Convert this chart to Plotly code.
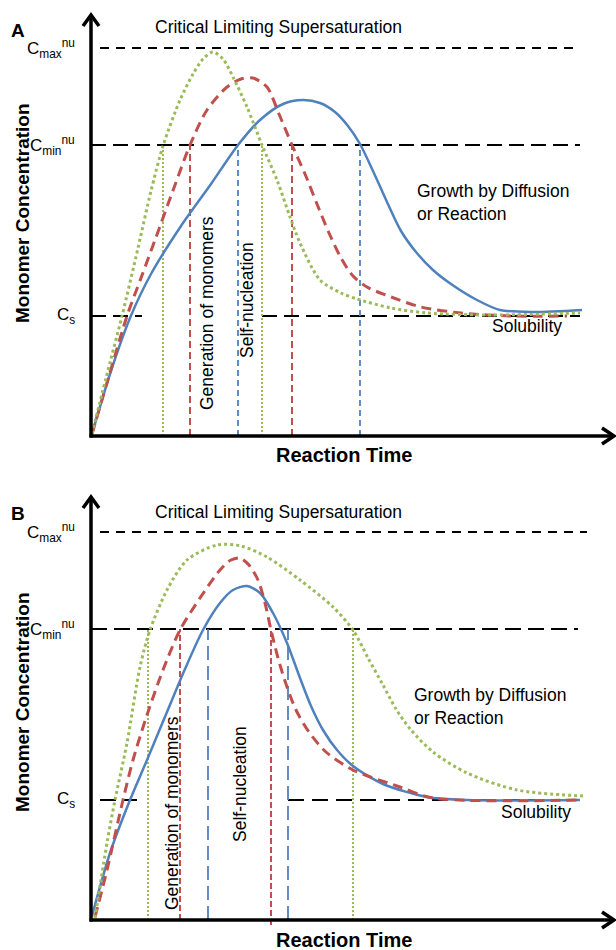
import plotly.graph_objects as go

# ---------------- data (arbitrary units: time, concentration) ----------------
C_S, C_MIN, C_MAX = 120, 291, 388
LEVEL_LABELS = ["C<sub>max</sub><sup>nu</sup>", "C<sub>min</sub><sup>nu</sup>", "C<sub>s</sub>"]

# Panel A
a_blue_t = [1, 19, 39, 60, 90, 120, 147, 169, 192, 212, 229, 244, 257, 269, 282, 296, 310, 325, 342, 360, 386, 409, 442, 491]
a_blue_c = [2, 62, 118, 162, 210, 252, 291, 316, 332, 336, 333, 324, 310, 292, 265, 234, 205, 184, 166, 152, 136, 126, 124, 126]
a_red_t = [1, 18, 36, 50, 64, 84, 99, 116, 136, 150, 162, 176, 188, 201, 214, 226, 238, 250, 262, 276, 300, 330, 370, 420, 476]
a_red_c = [2, 60, 120, 158, 196, 251, 291, 326, 349, 357, 358, 349, 322, 291, 262, 232, 203, 178, 160, 149, 139, 129, 123, 120, 120]
a_green_t = [1, 15, 31, 47, 60, 72, 89, 102, 112, 122, 132, 142, 156, 171, 186, 199, 209, 229, 250, 266, 300, 336, 400, 489]
a_green_c = [2, 58, 120, 188, 245, 290, 336, 362, 377, 384, 377, 359, 329, 291, 256, 219, 193, 156, 143, 137, 128, 123, 121, 123]
a_vlines_green = [72, 171]
a_vlines_red = [99, 201]
a_vlines_blue = [147, 269]

# Panel B
b_blue_t = [1, 19, 39, 56, 76, 94, 112, 129, 142, 156, 169, 182, 196, 209, 220, 232, 246, 262, 292, 336, 376, 489]
b_blue_c = [4, 67, 120, 160, 208, 251, 290, 317, 330, 334, 327, 307, 277, 242, 214, 190, 170, 154, 136, 123, 120, 120]
b_red_t = [4, 16, 32, 42, 56, 72, 89, 109, 129, 140, 149, 158, 167, 174, 180, 187, 195, 205, 218, 235, 262, 309, 342, 489]
b_red_c = [3, 50, 120, 160, 205, 250, 290, 322, 350, 360, 362, 355, 340, 317, 290, 262, 236, 210, 188, 168, 150, 133, 122, 120]
b_green_t = [4, 16, 24, 36, 49, 59, 76, 96, 126, 150, 176, 209, 242, 262, 277, 292, 305, 320, 342, 376, 426, 492]
b_green_c = [2, 77, 120, 177, 253, 290, 330, 360, 375, 374, 363, 340, 313, 290, 262, 235, 211, 190, 168, 147, 130, 124]
b_vlines_green = [57, 262]
b_vlines_red = [89, 180]
b_vlines_blue = [117, 197]

BLUE = "#4F81BD"
RED = "#C0504D"
GREEN = "#9BBB59"
FONT = "Liberation Sans, Arial, sans-serif"

fig = go.Figure()

def add_curves(xa, ya, bt, bc, rt, rc, gt, gc):
    fig.add_trace(go.Scatter(x=bt, y=bc, mode="lines", xaxis=xa, yaxis=ya,
                             line=dict(color=BLUE, width=2.5, shape="spline", smoothing=0.8)))
    fig.add_trace(go.Scatter(x=rt, y=rc, mode="lines", xaxis=xa, yaxis=ya,
                             line=dict(color=RED, width=3, dash="10px,6px", shape="spline", smoothing=0.8)))
    fig.add_trace(go.Scatter(x=gt, y=gc, mode="lines", xaxis=xa, yaxis=ya,
                             line=dict(color=GREEN, width=3, dash="3px,3px", shape="spline", smoothing=0.8)))

add_curves("x", "y", a_blue_t, a_blue_c, a_red_t, a_red_c, a_green_t, a_green_c)
add_curves("x2", "y2", b_blue_t, b_blue_c, b_red_t, b_red_c, b_green_t, b_green_c)

shapes = []
annotations = []

def hline(xr, yr, x0, x1, y, dash, width=2):
    shapes.append(dict(type="line", xref=xr, yref=yr, x0=x0, x1=x1, y0=y, y1=y,
                       line=dict(color="black", width=width, dash=dash), layer="below"))

def vline(xr, yr, x, y0, y1, color, dash, width):
    shapes.append(dict(type="line", xref=xr, yref=yr, x0=x, x1=x, y0=y0, y1=y1,
                       line=dict(color=color, width=width, dash=dash), layer="below"))

def axes_arrows(xr, yr, ytop, xright):
    shapes.append(dict(type="line", xref=xr, yref=yr, x0=0, x1=0, y0=-1.5, y1=ytop,
                       line=dict(color="black", width=3.5)))
    shapes.append(dict(type="line", xref=xr, yref=yr, x0=-1.5, x1=xright, y0=0, y1=0,
                       line=dict(color="black", width=3.5)))
    shapes.append(dict(type="path", xref=xr, yref=yr,
                       path=f"M -8,{ytop-11} L 0,{ytop} L 8,{ytop-11}",
                       line=dict(color="black", width=3.5)))
    shapes.append(dict(type="path", xref=xr, yref=yr,
                       path=f"M {xright-12},8 L {xright},0 L {xright-12},-8",
                       line=dict(color="black", width=3.5)))

def text(xr, yr, x, y, t, size=17.5, bold=False, xanchor="center", angle=0, align="center"):
    annotations.append(dict(xref=xr, yref=yr, x=x, y=y, text=t, showarrow=False,
                            xanchor=xanchor, yanchor="middle", textangle=angle, align=align,
                            font=dict(family=FONT, size=size, color="black",
                                      weight="bold" if bold else "normal")))

# ---- Panel A ----
hline("x", "y", 9, 489, C_MAX, "9px,7px")
hline("x", "y", 0, 489, C_MIN, "15px,7px")
hline("x", "y", 0, 51, C_S, "15px,7px")
hline("x", "y", 171, 489, C_S, "15px,7px")
for v in a_vlines_green:
    vline("x", "y", v, 0, C_MIN, GREEN, "2px,2px", 2)
for v in a_vlines_red:
    vline("x", "y", v, 0, C_MIN, RED, "7px,4px", 2)
for v in a_vlines_blue:
    vline("x", "y", v, 0, C_MIN, BLUE, "6px,4px", 1.8)
axes_arrows("x", "y", 421, 523)

text("x", "y", -73, 406, "A", size=19, bold=True)
text("x", "y", 187, 409, "Critical Limiting Supersaturation")
for lvl, lab in zip([C_MAX, C_MIN, C_S], LEVEL_LABELS):
    text("x", "y", -14, lvl, lab, size=17, xanchor="right")
text("x", "y", 324, 234, "Growth by Diffusion<br>or Reaction", xanchor="left", align="left")
text("x", "y", 436, 110, "Solubility")
text("x", "y", 116, 123, "Generation of monomers", angle=-90)
text("x", "y", 156, 136, "Self-nucleation", angle=-90)
text("x", "y", 253, -19, "Reaction Time", size=20, bold=True)
text("x", "y", -69, 223, "Monomer Concentration", size=19, bold=True, angle=-90)

# ---- Panel B ----
hline("x2", "y2", 9, 496, C_MAX, "9px,7px")
hline("x2", "y2", 0, 487, C_MIN, "16px,7px")
hline("x2", "y2", 9, 46, C_S, "16px,8px")
hline("x2", "y2", 197, 487, C_S, "16px,8px")
for v in b_vlines_green:
    vline("x2", "y2", v, 0, C_MIN, GREEN, "2px,2px", 2)
for v in b_vlines_red:
    vline("x2", "y2", v, 0 if v < 150 else -5, C_MIN, RED, "6px,3px", 2)
for v in b_vlines_blue:
    vline("x2", "y2", v, 0, C_MIN, BLUE, "14px,6px", 1.8)
axes_arrows("x2", "y2", 423, 523)

text("x2", "y2", -73, 407, "B", size=19, bold=True)
text("x2", "y2", 187, 408, "Critical Limiting Supersaturation")
for lvl, lab in zip([C_MAX, C_MIN, C_S], LEVEL_LABELS):
    text("x2", "y2", -14, lvl, lab, size=17, xanchor="right")
text("x2", "y2", 321, 214, "Growth by Diffusion<br>or Reaction", xanchor="left", align="left")
text("x2", "y2", 445, 108, "Solubility")
text("x2", "y2", 81, 107, "Generation of monomers", angle=-90)
text("x2", "y2", 149, 136, "Self-nucleation", angle=-90)
text("x2", "y2", 253, -20, "Reaction Time", size=20, bold=True)
text("x2", "y2", -69, 218, "Monomer Concentration", size=19, bold=True, angle=-90)

ax = dict(visible=False, fixedrange=True)
fig.update_layout(
    width=616, height=950,
    margin=dict(l=0, r=0, t=0, b=0),
    paper_bgcolor="white", plot_bgcolor="white",
    showlegend=False,
    xaxis=dict(ax, domain=[0, 1], range=[-91, 525]),
    yaxis=dict(ax, domain=[1 - 470 / 950, 1], range=[-34, 436]),
    xaxis2=dict(ax, domain=[0, 1], range=[-91, 525]),
    yaxis2=dict(ax, domain=[0, 472 / 950], range=[-30, 442]),
    shapes=shapes,
    annotations=annotations,
)

fig.write_html(
    "out.html",
    config={"displayModeBar": False},
    post_script="document.body.style.margin='0';document.body.style.overflow='hidden';",
)
